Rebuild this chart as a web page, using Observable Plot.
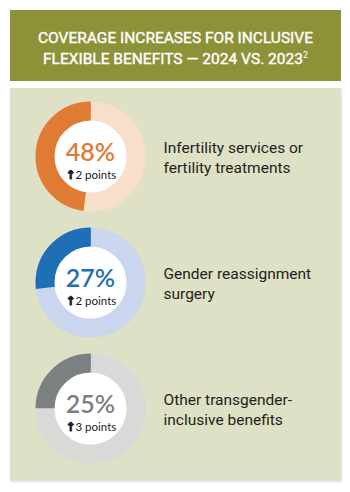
<!DOCTYPE html>
<html>
<head>
<meta charset="utf-8">
<script src="https://cdn.jsdelivr.net/npm/d3@7"></script>
<script src="https://cdn.jsdelivr.net/npm/@observablehq/plot@0.6"></script>
<style>
  html, body { margin: 0; padding: 0; background: #ffffff; }
  body { width: 350px; height: 492px; position: relative; overflow: hidden; }
  #header {
    position: absolute; left: 10px; top: 10px; width: 331px; height: 71px;
    background: #8d9137; color: #ffffff; box-sizing: border-box;
    padding-top: 18px; text-align: center;
    font-family: Roboto, "Open Sans", sans-serif; font-weight: 400;
    font-size: 15.5px; line-height: 21px; letter-spacing: 0px;
    -webkit-text-stroke: 0.4px #ffffff;
  }
  #header sup { font-size: 9px; vertical-align: 6px; line-height: 0; -webkit-text-stroke: 0; }
  #panel {
    position: absolute; left: 10px; top: 88px; width: 331px; height: 393px;
    background: #dee1c5; box-shadow: 1px 1px 2px rgba(0,0,0,0.12);
  }
  #panel svg { display: block; }
</style>
</head>
<body>
<div id="header">COVERAGE INCREASES FOR INCLUSIVE<br>FLEXIBLE BENEFITS — 2024 VS. 2023<sup>2</sup></div>
<div id="panel"></div>
<script>
// ---- data ----
const categories = [
  "Infertility services or\nfertility treatments",
  "Gender reassignment\nsurgery",
  "Other transgender-\ninclusive benefits"
];
const shares2024 = [48, 27, 25];          // % coverage 2024
const changePoints = [2, 2, 3];           // increase vs 2023, points

// ---- styles ----
const darkColors = ["#e07b36", "#1f6fb6", "#7b8080"];
const lightColors = ["#f8dfcc", "#c9d6ee", "#d9dad8"];

const rows = categories.map((c, i) => ({
  category: c, share: shares2024[i], change: changePoints[i], i
}));

const R = 45.5, W = 19;
const C = 2 * Math.PI * R;

const arcMarks = rows.map(d => {
  const L = d.share / 100 * C;
  const s = (270 - 360 * d.share / 100) / 360 * C;
  return Plot.dot([d], {
    x: () => "ring", y: "category", r: R,
    fill: "none", stroke: darkColors[d.i], strokeWidth: W,
    strokeDasharray: `${L} ${C - L}`, strokeDashoffset: C - s
  });
});

const chart = Plot.plot({
  width: 331, height: 393,
  margin: 0,
  x: { type: "point", domain: ["ring", "label"], range: [80, 153], padding: 0, axis: null },
  y: { type: "point", domain: categories, range: [67, 320], padding: 0, axis: null },
  color: { type: "identity" },
  style: { background: "transparent", fontFamily: "Roboto, sans-serif" },
  marks: [
    Plot.dot(rows, {
      x: () => "ring", y: "category", r: R,
      fill: "#ffffff", stroke: d => lightColors[d.i], strokeWidth: W
    }),
    ...arcMarks,
    Plot.text(rows, {
      x: () => "ring", y: "category", text: d => d.share + "%",
      fill: d => darkColors[d.i], fontSize: 25, dy: -4, fontWeight: 600,
      fontFamily: "Lato, sans-serif"
    }),
    Plot.text(rows, {
      x: () => "ring", y: "category", text: () => "↑",
      fill: "#1a1a1a", stroke: "#1a1a1a", strokeWidth: 0.9,
      fontSize: 12, fontWeight: "bold", dx: -20, dy: 19,
      fontFamily: "DejaVu Sans, sans-serif"
    }),
    Plot.text(rows, {
      x: () => "ring", y: "category", text: d => d.change + " points",
      textAnchor: "start", fill: "#1a1a1a", fontSize: 11.5, dx: -15, dy: 19,
      fontFamily: "Lato, sans-serif"
    }),
    Plot.text(rows, {
      x: () => "label", y: "category", text: "category",
      textAnchor: "start", fill: "#231f20", fontSize: 15.5, lineHeight: 1.3,
      fontFamily: "Roboto, sans-serif"
    })
  ]
});
document.getElementById("panel").appendChild(chart);
</script>
</body>
</html>
